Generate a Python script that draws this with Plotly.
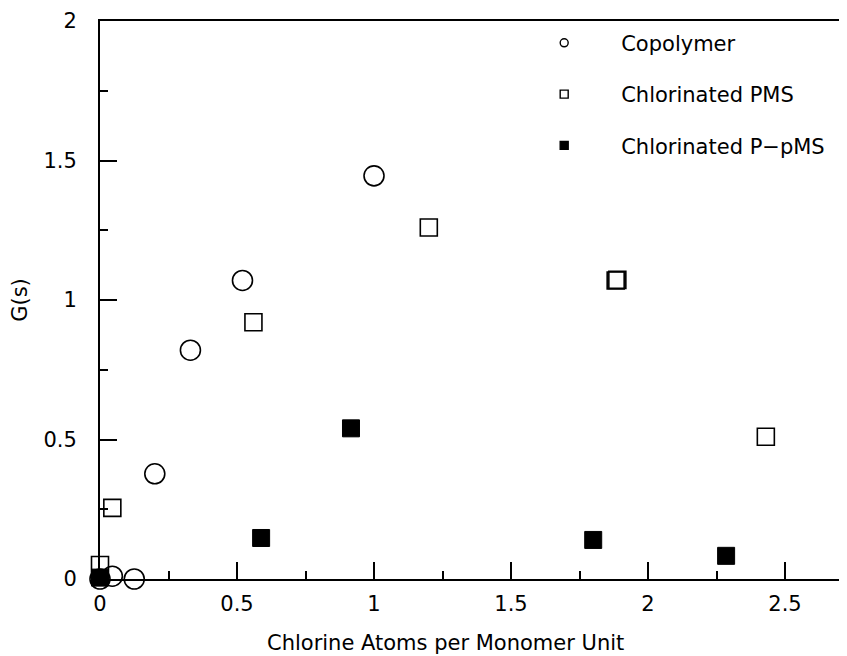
import plotly.graph_objects as go

# Copolymer (open circles)
copo_x = [0.0, 0.045, 0.125, 0.20, 0.33, 0.52, 1.00]
copo_y = [0.0, 0.01, 0.0, 0.377, 0.82, 1.07, 1.445]

# Chlorinated PMS (open squares)
pms_x = [0.0, 0.045, 0.56, 1.20, 1.882, 1.888, 2.43]
pms_y = [0.05, 0.255, 0.92, 1.26, 1.07, 1.072, 0.51]

# Chlorinated P-pMS (filled squares)
ppms_x = [0.0, 0.588, 0.916, 1.80, 2.285]
ppms_y = [0.005, 0.147, 0.54, 0.14, 0.083]

names = ["Copolymer", "Chlorinated PMS", "Chlorinated P\u2212pMS"]
x_title = "Chlorine Atoms per Monomer Unit"
y_title = "G(s)"

FONT = "DejaVu Sans"
FS = 21
fig = go.Figure()

fig.add_trace(go.Scatter(x=copo_x, y=copo_y, mode="markers", showlegend=False,
                         marker=dict(symbol="circle-open", size=20, color="black",
                                     line=dict(width=1.6, color="black")),
                         cliponaxis=False))
fig.add_trace(go.Scatter(x=pms_x, y=pms_y, mode="markers", showlegend=False,
                         marker=dict(symbol="square-open", size=17, color="black",
                                     line=dict(width=1.6, color="black")),
                         cliponaxis=False))
fig.add_trace(go.Scatter(x=ppms_x, y=ppms_y, mode="markers", showlegend=False,
                         marker=dict(symbol="square", size=17, color="black",
                                     line=dict(width=1, color="black")),
                         cliponaxis=False))

# legend-only entries with small markers
leg_syms = ["circle-open", "square-open", "square"]
for i, (nm, sym) in enumerate(zip(names, leg_syms)):
    fig.add_trace(go.Scatter(x=[None], y=[None], mode="markers", name=nm,
                             legendgroup=str(i),
                             marker=dict(symbol=sym, size=8, color="black",
                                         line=dict(width=1.4, color="black"))))

fig.update_layout(
    width=831, height=656,
    margin=dict(l=92, r=0, t=13, b=85),
    plot_bgcolor="white", paper_bgcolor="white",
    font=dict(family=FONT, size=FS, color="black"),
    showlegend=True,
    legend=dict(x=0.551, y=0.997, xanchor="left", yanchor="top",
                bgcolor="rgba(0,0,0,0)", font=dict(size=FS, family=FONT),
                traceorder="grouped", tracegroupgap=21, itemwidth=104),
    xaxis=dict(range=[0, 2.697], tickvals=[0, 0.5, 1, 1.5, 2, 2.5],
               ticktext=["0", "0.5", "1", "1.5", "2", "2.5"],
               ticks="inside", ticklen=17, tickwidth=1.5, tickcolor="black",
               minor=dict(tickvals=[0.25, 0.75, 1.25, 1.75, 2.25], ticks="inside",
                          ticklen=8, tickwidth=1.5, tickcolor="black"),
               showline=True, linewidth=2, linecolor="black", mirror=True,
               showgrid=False, zeroline=False, automargin=False,
               tickfont=dict(size=FS, family=FONT), ticklabelstandoff=5),
    yaxis=dict(range=[0, 2], tickvals=[0, 0.5, 1, 1.5, 2],
               ticktext=["0", "0.5", "1", "1.5", "2"],
               ticks="inside", ticklen=17, tickwidth=1.5, tickcolor="black",
               minor=dict(tickvals=[0.25, 0.75, 1.25, 1.75], ticks="inside",
                          ticklen=8, tickwidth=1.5, tickcolor="black"),
               showline=True, linewidth=2, linecolor="black", mirror=False,
               showgrid=False, zeroline=False, automargin=False,
               tickfont=dict(size=FS, family=FONT), ticklabelstandoff=17,
               title=dict(text=y_title, font=dict(size=FS, family=FONT), standoff=12)),
    annotations=[dict(text=x_title, xref="paper", yref="paper", x=0.467, y=-0.1147,
                      xanchor="center", yanchor="middle", showarrow=False,
                      font=dict(size=FS, family=FONT))],
)

fig.write_html("out.html")
